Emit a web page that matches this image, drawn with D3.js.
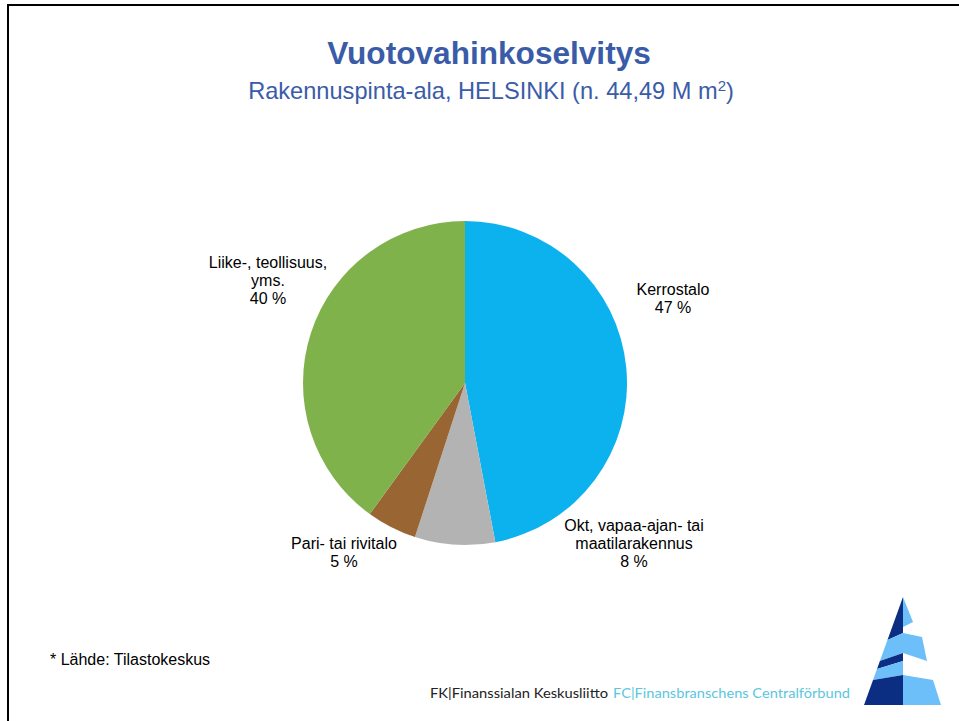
<!DOCTYPE html>
<html>
<head>
<meta charset="utf-8">
<script src="https://cdn.jsdelivr.net/npm/d3@7"></script>
<style>
  html, body { margin: 0; padding: 0; background: #fff; }
  svg { display: block; font-family: "Liberation Sans", Arial, sans-serif; }
</style>
</head>
<body>
<svg id="chart" width="959" height="721"></svg>
<script>
// Building floor area in Helsinki by building type (share of total, %)
const categories = ["Kerrostalo", "Okt, vapaa-ajan- tai maatilarakennus", "Pari- tai rivitalo", "Liike-, teollisuus, yms."];
const shares = [47, 8, 5, 40];
const sliceColors = ["#0cb2ee", "#b3b3b3", "#986533", "#7fb24b"];
// Label lines as printed next to each slice
const labelLines = [
  ["Kerrostalo", "47 %"],
  ["Okt, vapaa-ajan- tai", "maatilarakennus", "8 %"],
  ["Pari- tai rivitalo", "5 %"],
  ["Liike-, teollisuus,", "yms.", "40 %"]
];

const svg = d3.select("#chart");
const W = 959, H = 721;

// Slide frame (top and left edges visible)
svg.append("path")
  .attr("d", `M8,${H} L8,5 L${W},5`)
  .attr("fill", "none")
  .attr("stroke", "#000")
  .attr("stroke-width", 2);

// Titles
svg.append("text")
  .attr("x", 489).attr("y", 64)
  .attr("text-anchor", "middle")
  .attr("font-size", 31.6).attr("font-weight", "bold")
  .attr("fill", "#3a5ca8")
  .text("Vuotovahinkoselvitys");

const sub = svg.append("text")
  .attr("x", 491).attr("y", 99)
  .attr("text-anchor", "middle")
  .attr("font-size", 23.6)
  .attr("fill", "#3a5ca8");
sub.append("tspan").text("Rakennuspinta-ala, HELSINKI (n. 44,49 M m");
sub.append("tspan").attr("font-size", 15).attr("dy", -8).text("2");
sub.append("tspan").attr("dy", 8).text(")");

// Pie
const cx = 465, cy = 383, R = 162;
const data = categories.map((c, i) => ({ name: c, value: shares[i], color: sliceColors[i], lines: labelLines[i] }));
const pie = d3.pie().value(d => d.value).sort(null).startAngle(0).endAngle(2 * Math.PI);
const arc = d3.arc().innerRadius(0).outerRadius(R);
const arcs = pie(data);

const g = svg.append("g").attr("transform", `translate(${cx},${cy})`);
g.selectAll("path.slice")
  .data(arcs)
  .join("path")
  .attr("class", "slice")
  .attr("d", arc)
  .attr("fill", d => d.data.color);

// Slice labels, placed outside the pie
const labelPos = [
  { x: 673, y: 295 },
  { x: 634, y: 531 },
  { x: 344, y: 549 },
  { x: 268, y: 268 }
];
const lineH = 18;
arcs.forEach((a, i) => {
  const t = svg.append("text")
    .attr("text-anchor", "middle")
    .attr("font-size", 16)
    .attr("fill", "#000");
  a.data.lines.forEach((ln, j) => {
    t.append("tspan")
      .attr("x", labelPos[i].x)
      .attr("y", labelPos[i].y + j * lineH)
      .text(ln);
  });
});

// Source note
svg.append("text")
  .attr("x", 50).attr("y", 665)
  .attr("font-size", 16)
  .attr("fill", "#000")
  .text("* Lähde: Tilastokeskus");

// Footer organisation names
svg.append("text")
  .attr("x", 430).attr("y", 698)
  .attr("font-family", "Lato, 'Open Sans', sans-serif")
  .attr("font-size", 14)
  .attr("fill", "#222")
  .attr("textLength", 178).attr("lengthAdjust", "spacingAndGlyphs")
  .text("FK|Finanssialan Keskusliitto");
svg.append("text")
  .attr("x", 613).attr("y", 698)
  .attr("font-family", "Lato, 'Open Sans', sans-serif")
  .attr("font-size", 14)
  .attr("fill", "#5cc6dc")
  .attr("textLength", 237).attr("lengthAdjust", "spacingAndGlyphs")
  .text("FC|Finansbranschens Centralförbund");

// Striped pyramid logo
const logo = svg.append("g").attr("transform", "translate(903,597)");
const dark = "#0b2d82", light = "#6cbff8";
// left edge of the pyramid: x = -(y * 39/108)
const lx = y => -y * 39 / 108;
const leftBands = [
  { c: dark,  top: [0, 0],   bot: [43, 36] },
  { c: light, top: [43, 36], bot: [64, 56] },
  { c: dark,  top: [64, 56], bot: [72, 64] },
  { c: light, top: [72, 64], bot: [83, 78] },
  { c: dark,  top: [83, 78], bot: [108, 108] }
];
leftBands.forEach(b => {
  const pts = [[lx(b.top[0]), b.top[0]], [0, b.top[1]], [0, b.bot[1]], [lx(b.bot[0]), b.bot[0]]];
  logo.append("path").attr("d", "M" + pts.map(p => p.join(",")).join("L") + "Z").attr("fill", b.c);
});
const rightParts = [
  [[0, 0], [10, 25], [0, 30]],
  [[0, 36], [19, 40], [24, 64], [0, 56]],
  [[0, 78], [30, 83], [38, 108], [0, 108]]
];
rightParts.forEach(pts => {
  logo.append("path").attr("d", "M" + pts.map(p => p.join(",")).join("L") + "Z").attr("fill", light);
});
</script>
</body>
</html>
